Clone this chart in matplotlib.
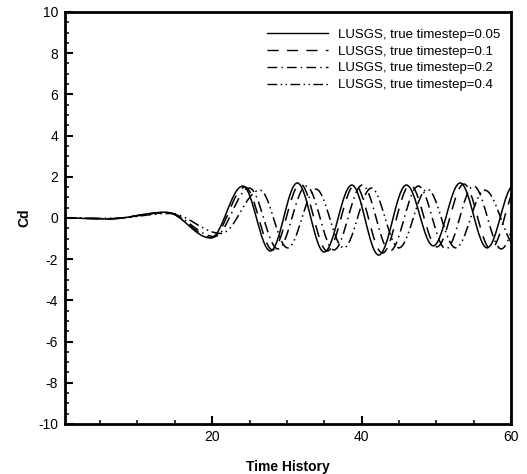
import matplotlib
matplotlib.use("Agg")
import matplotlib.pyplot as plt
from matplotlib.path import Path
from matplotlib.patches import PathPatch
from matplotlib.lines import Line2D
from matplotlib.ticker import MultipleLocator

plt.rcParams['font.family'] = ['Liberation Sans', 'DejaVu Sans']
plt.rcParams['axes.unicode_minus'] = False

# extrema (knots) of each Cd history
x05 = [0.3, 6.0, 13.8, 19.8, 24.1, 27.8, 31.4, 35.0, 38.7, 42.3, 46.0, 49.6, 53.2, 56.8, 60.4]
y05 = [0.0, -0.05, 0.28, -0.97, 1.55, -1.6, 1.7, -1.65, 1.6, -1.8, 1.6, -1.35, 1.7, -1.45, 1.6]

x10 = [0.3, 6.0, 13.9, 20.0, 24.4, 28.1, 31.8, 35.4, 39.1, 42.8, 46.5, 50.1, 53.7, 57.3, 61.0]
y10 = [0.0, -0.04, 0.27, -0.95, 1.5, -1.55, 1.65, -1.6, 1.6, -1.7, 1.6, -1.4, 1.65, -1.5, 1.6]

x20 = [0.3, 6.2, 14.0, 20.3, 25.0, 28.8, 32.6, 36.3, 40.1, 43.8, 47.6, 51.3, 55.0, 58.7, 62.4]
y20 = [0.0, -0.03, 0.26, -0.9, 1.45, -1.5, 1.55, -1.55, 1.6, -1.6, 1.55, -1.5, 1.55, -1.5, 1.5]

x40 = [0.3, 6.5, 14.3, 21.2, 26.4, 30.1, 33.9, 37.6, 41.3, 45.0, 48.8, 52.6, 56.5, 60.8]
y40 = [0.0, -0.02, 0.22, -0.75, 1.35, -1.45, 1.4, -1.45, 1.45, -1.45, 1.4, -1.45, 1.35, -1.4]

labels = ['LUSGS, true timestep=0.05', 'LUSGS, true timestep=0.1',
          'LUSGS, true timestep=0.2', 'LUSGS, true timestep=0.4']
styles = ['-', (0, (8, 6)), (0, (7, 3, 1, 3)), (0, (7, 2.5, 1, 2.5, 1, 2.5))]


def smoothPath(xs, ys, k=0.36):
    # cubic bezier between extrema, flat tangent at every knot
    verts = [(xs[0], ys[0])]
    codes = [Path.MOVETO]
    for i in range(1, len(xs)):
        h = xs[i] - xs[i - 1]
        verts += [(xs[i - 1] + k * h, ys[i - 1]), (xs[i] - k * h, ys[i]), (xs[i], ys[i])]
        codes += [Path.CURVE4] * 3
    return Path(verts, codes)


fig = plt.figure(figsize=(5.27, 4.74), dpi=100)
ax = fig.add_axes([0.1233, 0.1055, 0.8463, 0.8692])

handles = []
for xs, ys, ls, lab in zip([x05, x10, x20, x40], [y05, y10, y20, y40], styles, labels):
    ax.add_patch(PathPatch(smoothPath(xs, ys), fill=False, ec='black', lw=1.1, linestyle=ls))
    handles.append(Line2D([], [], color='black', lw=1.0, linestyle=ls, label=lab))

ax.set_xlim(0.3, 60)
ax.set_ylim(-10, 10)
ax.xaxis.set_major_locator(MultipleLocator(20))
ax.xaxis.set_minor_locator(MultipleLocator(5))
ax.yaxis.set_major_locator(MultipleLocator(2))
ax.yaxis.set_minor_locator(MultipleLocator(0.5))
ax.tick_params(which='major', direction='in', length=6, width=1.5, labelsize=10, pad=5,
               top=False, right=False)
ax.tick_params(which='minor', direction='in', length=3, width=1.1, top=False, right=False)
ax.tick_params(axis='x', pad=4)
for s in ax.spines.values():
    s.set_linewidth(2)

ax.set_xlabel('Time History', fontsize=10, fontweight='bold')
ax.set_ylabel('Cd', fontsize=10, fontweight='bold', va='center')
ax.xaxis.set_label_coords(0.5, -0.087)
ax.yaxis.set_label_coords(-0.092, 0.5)

ax.legend(handles=handles, loc='upper left', bbox_to_anchor=(0.453, 0.96), frameon=False,
          fontsize=9.5, handlelength=4.6, handletextpad=0.8, labelspacing=0.35,
          borderpad=0, borderaxespad=0)

fig.savefig('out.png', dpi=100)
